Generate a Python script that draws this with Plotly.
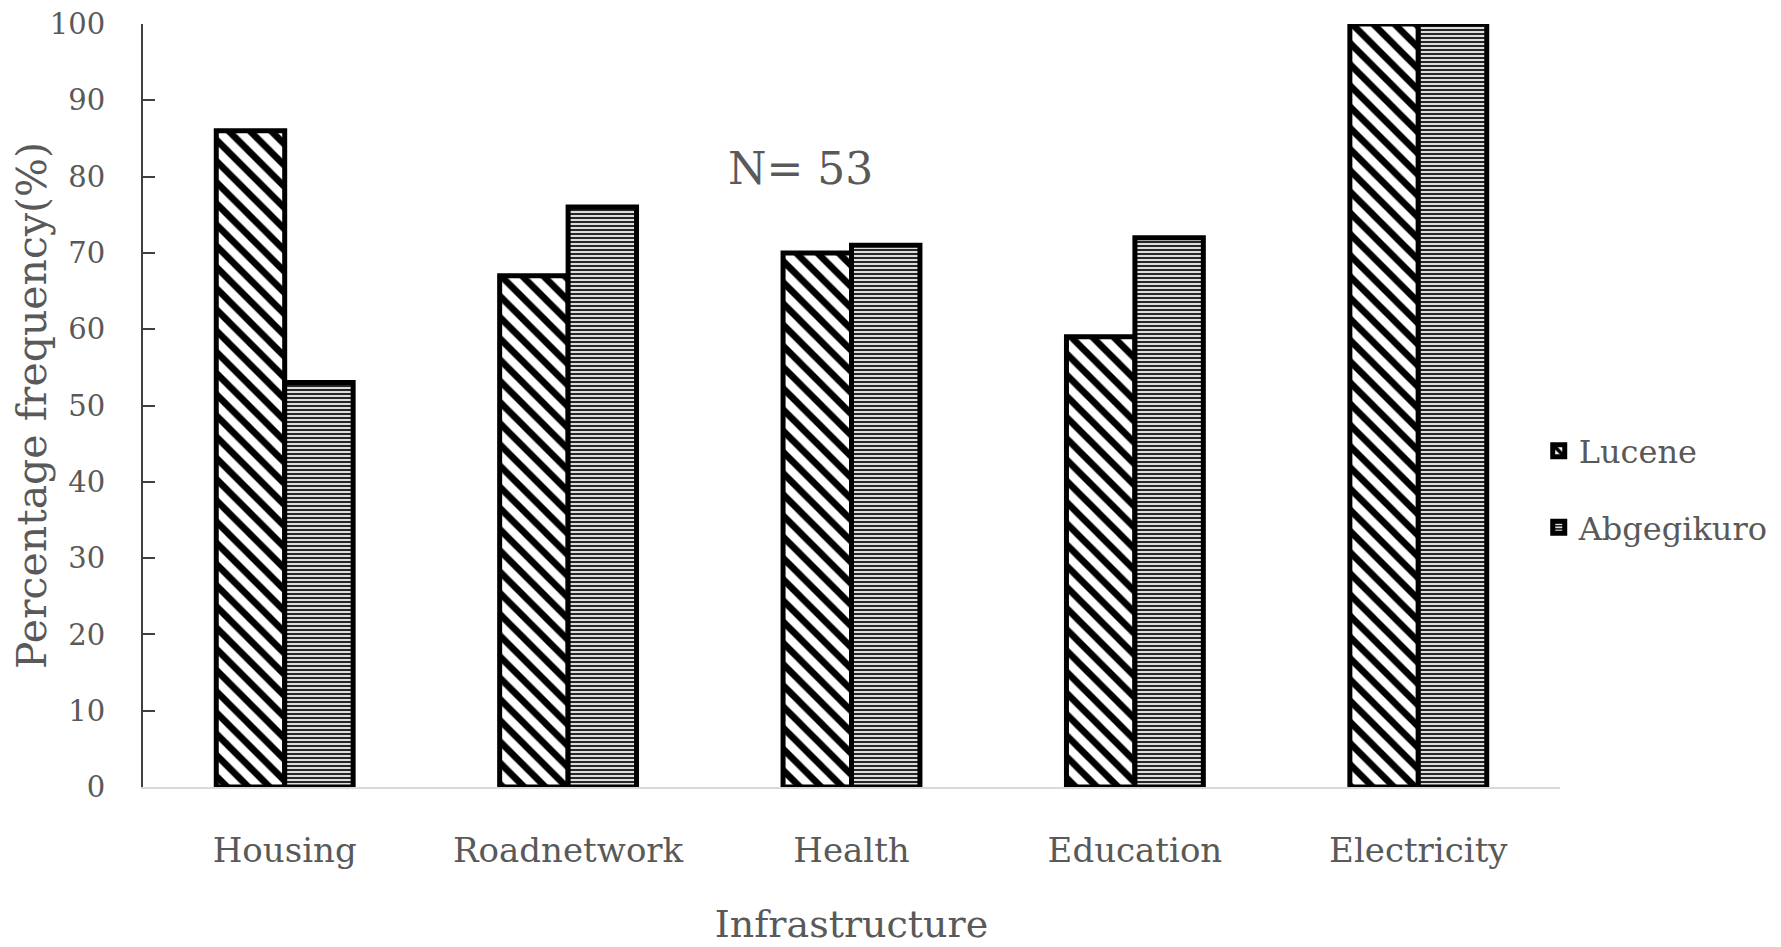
import plotly.graph_objects as go

categories = ["Housing", "Roadnetwork", "Health", "Education", "Electricity"]
lucene = [86, 67, 70, 59, 100]
abgegikuro = [53, 76, 71, 72, 100]
y_ticks = [0, 10, 20, 30, 40, 50, 60, 70, 80, 90, 100]

FONT = "DejaVu Serif"
GRAY = "#595959"

fig = go.Figure()
fig.add_trace(go.Bar(
    x=categories, y=lucene, name="Lucene", legendgroup="a",
    marker=dict(color="white",
                pattern=dict(shape="\\", size=15, solidity=0.45, fgcolor="black", bgcolor="white",
                             fgopacity=1, fillmode="replace"),
                line=dict(color="black", width=5)),
))
fig.add_trace(go.Bar(
    x=categories, y=abgegikuro, name="Abgegikuro", legendgroup="b",
    marker=dict(color="white",
                pattern=dict(shape="-", size=4, solidity=0.58, fgcolor="#262626", bgcolor="white",
                             fgopacity=1, fillmode="replace"),
                line=dict(color="black", width=5)),
))

fig.add_annotation(x=1.82, y=81, xref="x", yref="y", text="N= 53", showarrow=False,
                   font=dict(family=FONT, size=44, color=GRAY))

fig.update_layout(
    width=1773, height=939,
    margin=dict(l=135, r=221, t=16, b=160, autoexpand=False),
    paper_bgcolor="white", plot_bgcolor="white",
    barmode="group", bargap=0.517, bargroupgap=0,
    font=dict(family=FONT, color=GRAY),
    showlegend=True,
    legend=dict(x=0.985, xanchor="left", y=0.39, yanchor="middle",
                font=dict(family=FONT, size=32, color=GRAY),
                tracegroupgap=32, traceorder="grouped",
                bgcolor="rgba(0,0,0,0)"),
    xaxis=dict(showline=True, linecolor="#d9d9d9", linewidth=2, ticks="",
               automargin=False,
               tickfont=dict(family=FONT, size=34, color=GRAY),
               ticklabelstandoff=32,
               title=dict(text="Infrastructure", font=dict(family=FONT, size=38, color=GRAY), standoff=42),
               showgrid=False, zeroline=False),
    yaxis=dict(range=[0, 100], tickvals=y_ticks, showline=True, linecolor="#404040", linewidth=2,
               automargin=False, ticklabeloverflow="allow",
               ticks="inside", ticklen=12, tickwidth=2, tickcolor="#404040",
               tickfont=dict(family=FONT, size=29, color=GRAY),
               ticklabelstandoff=30,
               title=dict(text="Percentage frequency(%)", font=dict(family=FONT, size=41, color=GRAY), standoff=4),
               showgrid=False, zeroline=False),
)

fig.write_html("out.html")
